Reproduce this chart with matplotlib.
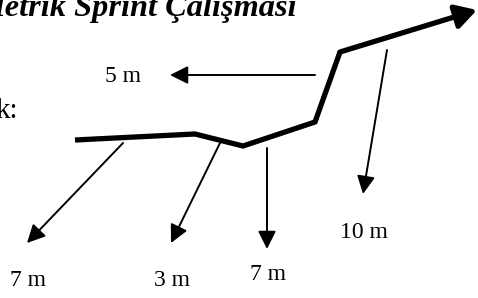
import matplotlib
matplotlib.use("Agg")
import matplotlib.pyplot as plt
from matplotlib.patches import FancyArrowPatch

# Main sprint path (pixel coordinates, y downward)
path_x = [75, 195, 243, 315, 340, 477]
path_y = [140, 134, 146, 122, 52, 10]

# Direction-change arrows: start, end
arrow_start = [(315, 75), (123, 143), (220, 143), (267, 148), (387, 50)]
arrow_end = [(170, 75), (27, 243), (171, 243), (267, 249), (363, 194)]

# Labels
label_text = ["5 m", "7 m", "3 m", "7 m", "10 m"]
label_pos = [(123, 76), (28, 281), (172, 281), (268, 274), (364, 233)]

title_text = "Metrik Sprint Çalışması"

fig = plt.figure(figsize=(4.78, 2.98), dpi=100)
ax = fig.add_axes([0, 0, 1, 1])
ax.set_xlim(0, 478)
ax.set_ylim(298, 0)
ax.axis("off")

serif = ["Liberation Serif", "DejaVu Serif"]

# main thick path
ax.plot(path_x[:-1], path_y[:-1], color="black", lw=3.8, solid_joinstyle="miter",
        solid_capstyle="butt")
main = FancyArrowPatch((path_x[-2], path_y[-2]), (path_x[-1], path_y[-1]),
                       arrowstyle="-|>,head_length=0.7,head_width=0.4",
                       mutation_scale=18, color="black", lw=3.8,
                       shrinkA=0, shrinkB=0)
ax.add_patch(main)

for (s, e) in zip(arrow_start, arrow_end):
    a = FancyArrowPatch(s, e, arrowstyle="-|>,head_length=0.68,head_width=0.34",
                        mutation_scale=16, color="black", lw=1.4,
                        shrinkA=0, shrinkB=0)
    ax.add_patch(a)

for t, (x, y) in zip(label_text, label_pos):
    ax.text(x, y, t, ha="center", va="center", fontsize=17, family=serif)

ax.text(297, 16, title_text, ha="right", va="baseline", fontsize=23.3,
        family=serif, fontweight="bold", fontstyle="italic")
ax.text(18, 118, "k:", ha="right", va="baseline", fontsize=21, family=serif)

fig.savefig("out.png", dpi=100)
